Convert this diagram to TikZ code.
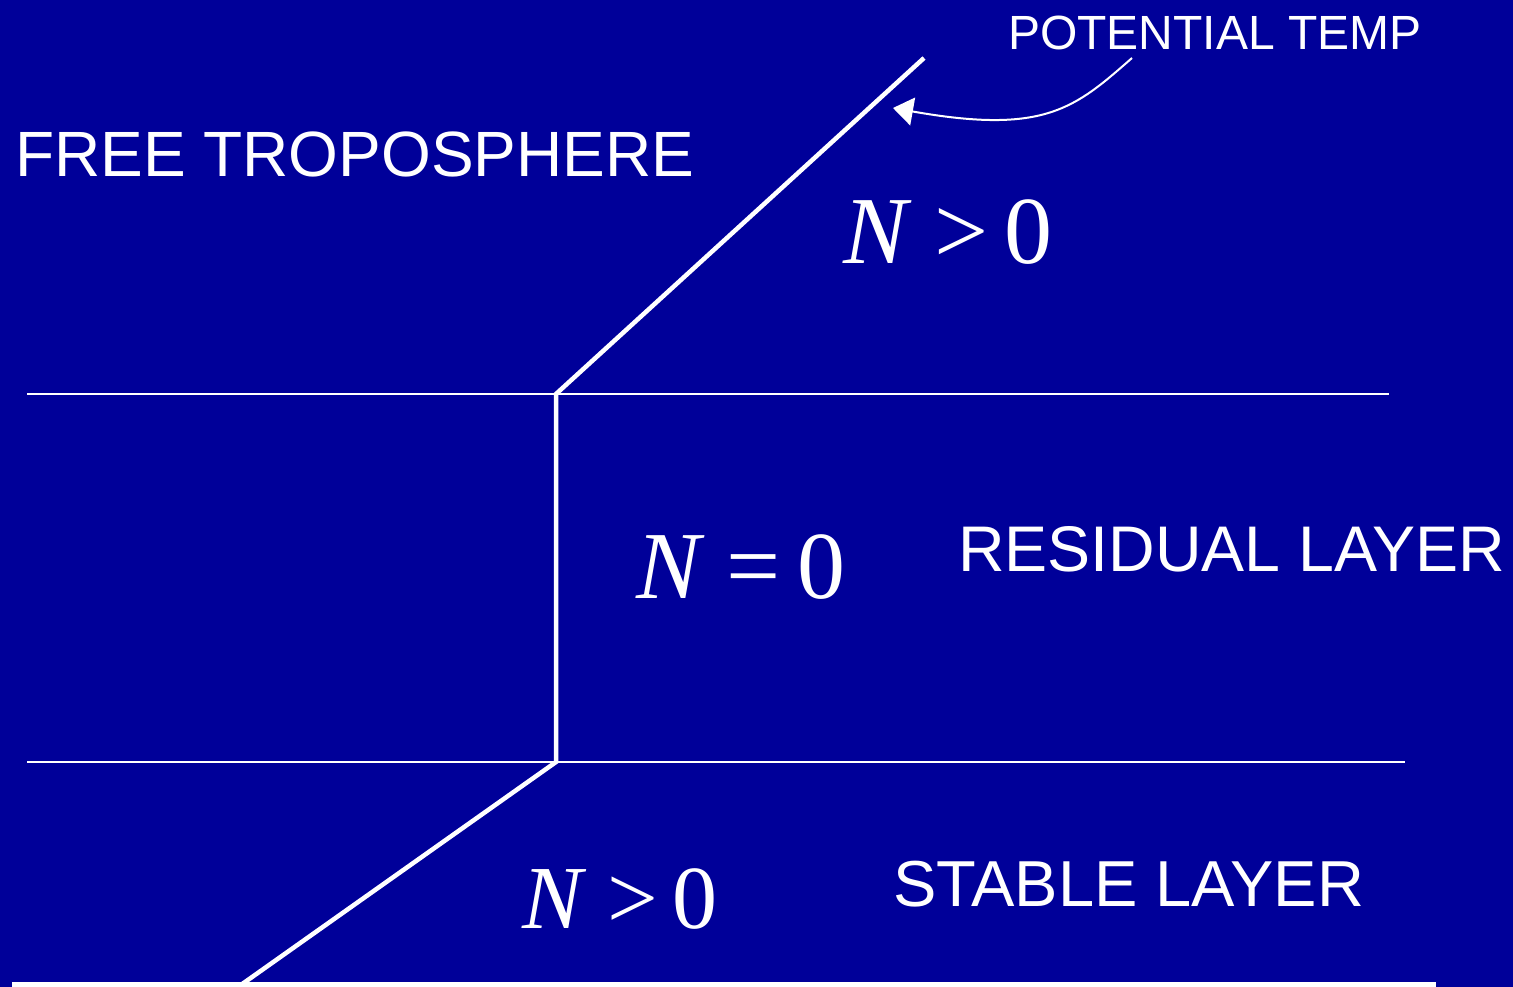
\documentclass[tikz,border=0pt]{standalone}
\usepackage{fontspec}
\setmainfont{Liberation Sans}
\newfontfamily\serifm{Liberation Serif}
\usetikzlibrary{arrows.meta}
\definecolor{bg}{RGB}{0,0,153}
\tikzset{
  thick line/.style={white, line width=4.5pt, line join=miter},
  thin line/.style={white, line width=1.5pt},
  label/.style={white, inner sep=0pt, anchor=base west},
}
\newcommand{\Nexpr}[3]{{\serifm\fontsize{#1}{#1}\selectfont\itshape N\upshape\hspace{#2}#3}}
\begin{document}
\begin{tikzpicture}[x=1pt,y=-1pt]
\fill[bg] (0,0) rectangle (1513,987);
\useasboundingbox (0,0) rectangle (1513,987);
% coordinates
\coordinate (top) at (924,58);
\coordinate (k1) at (556,394);
\coordinate (k2) at (556,762);
\coordinate (bot) at (238,987);
\coordinate (h1a) at (27,394);
\coordinate (h1b) at (1389,394);
\coordinate (h2a) at (27,762);
\coordinate (h2b) at (1405,762);
% lines
\draw[thin line] (h1a) -- (h1b);
\draw[thin line] (h2a) -- (h2b);
\draw[thick line] (top) -- (k1) -- (k2) -- (bot);
\fill[white] (12,982) rectangle (1436,987);
% labels
\node[label] (ft) at (15,177) {\fontsize{64}{70}\selectfont FREE TROPOSPHERE};
\node[label] (pt) at (1008,50) {\fontsize{48}{52}\selectfont POTENTIAL TEMP};
\node[label] (rl) at (958,571) {\fontsize{64.5}{70}\selectfont RESIDUAL LAYER};
\node[label] (sl) at (893,906) {\fontsize{65}{70}\selectfont STABLE LAYER};
\node[label] (m1) at (843,263) {\Nexpr{96}{27pt}{>\hspace{16pt}0}};
\node[label] (m2) at (636,598) {\Nexpr{96}{26pt}{=\hspace{17pt}0}};
\node[label] (m3) at (522,928) {\Nexpr{90}{25pt}{>\hspace{15pt}0}};
% arrow
\coordinate (as) at (1132,58);
\coordinate (at) at (893,108);
\draw[white, line width=2pt, -{Triangle[length=20pt,width=28pt]}] (as) .. controls (1075,108) and (1045,135) .. (at);
\end{tikzpicture}
\end{document}
